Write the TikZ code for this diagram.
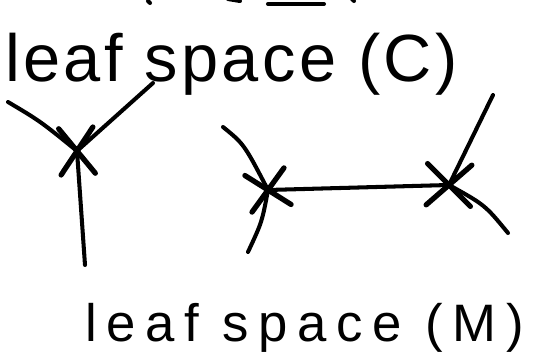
\documentclass[tikz,border=0pt]{standalone}
\usepackage{fontspec}
\setmainfont{Liberation Sans}
\newfontfamily\handC[LetterSpace=5]{Liberation Sans}
\newfontfamily\handM[LetterSpace=18]{Liberation Sans}
\usetikzlibrary{shapes.misc}
\begin{document}
\begin{tikzpicture}[
	x=0.02cm, y=-0.02cm,
	ink/.style={line width=2.3pt, line cap=round},
	cr/.style={cross out, draw, line width=3pt, line cap=round, inner sep=0pt},
	lbl/.style={anchor=base west, inner sep=0pt}
	]
	\useasboundingbox (0,0) rectangle (556,361);
	% --- cut-off strokes at the top ---
	\draw[ink] (148,1) -- (150,3);
	\draw[ink] (228,-1) -- (240,1);
	\draw[ink] (268,4) -- (324,4);
	\draw[ink] (352,-1) -- (354,1);
	% --- labels ---
	\node[lbl, font=\handC\fontsize{38}{42}\selectfont] (lc) at (5,82) {leaf space (C)};
	\node[lbl, font=\handM\fontsize{30}{34}\selectfont] (lm) at (85,342) {leaf space (M)};
	% --- leaf space (C): a tree ---
	\node[cr, minimum width=0.58cm, minimum height=0.82cm, rotate=3] (t0) at (77,151) {};
	\coordinate (t1) at (8,102);
	\coordinate (t2) at (153,83);
	\coordinate (t3) at (85,265);
	\draw[ink] (t1) .. controls (40,121) .. (t0.center);
	\draw[ink] (t2) -- (t0.center);
	\draw[ink] (t0.center) -- (t3);
	% --- leaf space (M): two points joined ---
	\node[cr, minimum width=0.69cm, minimum height=0.64cm, rotate=11] (g1) at (268,190) {};
	\node[cr, minimum width=0.78cm, minimum height=0.72cm, rotate=-2] (g2) at (449,185) {};
	\coordinate (g3) at (223,127);
	\coordinate (g4) at (248,252);
	\coordinate (g5) at (493,95);
	\coordinate (g6) at (508,233);
	\draw[ink] (g3) .. controls (244,144) .. (g1.center);
	\draw[ink] (g1.center) .. controls (262,222) .. (g4);
	\draw[ink] (g1.center) -- (g2.center);
	\draw[ink] (g2.center) -- (g5);
	\draw[ink] (g2.center) .. controls (485,205) .. (g6);
\end{tikzpicture}
\end{document}
